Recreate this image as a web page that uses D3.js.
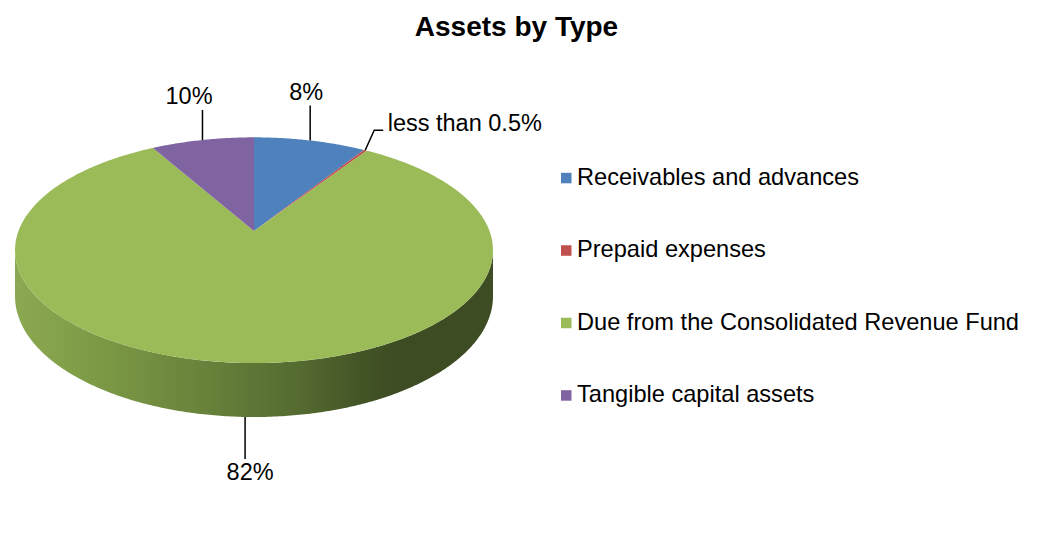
<!DOCTYPE html>
<html>
<head>
<meta charset="utf-8">
<script src="https://cdn.jsdelivr.net/npm/d3@7"></script>
<style>
  html, body { margin: 0; padding: 0; background: #fff; }
  svg { display: block; font-family: "Liberation Sans", Arial, sans-serif; }
</style>
</head>
<body>
<div id="chart"></div>
<script>
// data
const categories = ['Receivables and advances', 'Prepaid expenses', 'Due from the Consolidated Revenue Fund', 'Tangible capital assets'];
const shares = [8.95, 0.25, 82.6, 8.2];          // slice sizes
const labelText = ['8%', 'less than 0.5%', '82%', '10%'];
const colors = ['#4f81bd', '#c0504d', '#9bbb59', '#8064a2'];

const w = 1037, h = 549;
const svg = d3.select('#chart').append('svg').attr('width', w).attr('height', h);

svg.append('text')
  .attr('x', 516.5).attr('y', 36)
  .attr('text-anchor', 'middle')
  .attr('font-size', 28).attr('font-weight', 'bold')
  .text('Assets by Type');

// 3d pie geometry (a tilted disc seen with some perspective)
const cx = 254, cy = 231;
const Rx = 235.5, B = 109.6, p = 0.17, depth = 44.8;

function proj(a, dz) {
  const s = Math.sin(a), c = Math.cos(a), k = 1 + p * c;
  return [cx + Rx * s / k, cy - B * c / k + (dz || 0) / k];
}
function arcPts(a0, a1, dz) {
  const n = Math.max(2, Math.ceil(Math.abs(a1 - a0) / 0.01));
  return d3.range(n + 1).map(i => proj(a0 + (a1 - a0) * i / n, dz));
}

const pie = d3.pie().sort(null).value(d => d)(shares);
const line = d3.line();

// side shading
const defs = svg.append('defs');
const grad = defs.append('linearGradient')
  .attr('id', 'sideGreen')
  .attr('gradientUnits', 'userSpaceOnUse')
  .attr('x1', 15).attr('x2', 493).attr('y1', 0).attr('y2', 0);
[[0, '#8ca951'], [0.2, '#7a9744'], [0.4, '#68823b'], [0.6, '#546a30'], [0.72, '#435526'], [0.8, '#3d4c23'], [1, '#3d4c23']]
  .forEach(s => grad.append('stop').attr('offset', s[0]).attr('stop-color', s[1]));

const vis0 = Math.acos(-p), vis1 = 2 * Math.PI - Math.acos(-p);

const sideG = svg.append('g');
pie.forEach((d, i) => {
  const a0 = Math.max(d.startAngle, vis0), a1 = Math.min(d.endAngle, vis1);
  if (a1 <= a0) return;
  const pts = arcPts(a0, a1, 0).concat(arcPts(a1, a0, depth));
  sideG.append('path')
    .attr('d', line(pts) + 'Z')
    .attr('fill', i === 2 ? 'url(#sideGreen)' : d3.color(colors[i]).darker(1));
});

const faceG = svg.append('g');
pie.forEach((d, i) => {
  const pts = [[cx, cy]].concat(arcPts(d.startAngle, d.endAngle, 0));
  faceG.append('path')
    .attr('d', line(pts) + 'Z')
    .attr('fill', colors[i]);
});

// data labels with leader lines
const leaders = [
  { from: 0, path: [[0, -35]], tx: -4, ty: -5.7, anchor: 'middle' },
  { from: 1, path: [[9, -20], [18, -20]], tx: 4.5, ty: 0.8, anchor: 'start' },
  { from: 2, path: [[0, 42]], tx: 5, ty: 21, anchor: 'middle' },
  { from: 3, path: [[0, -30]], tx: -13.4, ty: -6.4, anchor: 'middle' }
];
const lab = svg.append('g').attr('font-size', 23.5);
leaders.forEach(L => {
  const d = pie[L.from];
  const a = (d.startAngle + d.endAngle) / 2;
  const onFront = Math.cos(a) < -p;
  const start = proj(a, onFront ? depth : 0);
  const pts = [start].concat(L.path.map(o => [start[0] + o[0], start[1] + o[1]]));
  lab.append('path').attr('d', line(pts)).attr('fill', 'none').attr('stroke', '#000').attr('stroke-width', 1.5);
  const end = pts[pts.length - 1];
  lab.append('text')
    .attr('x', end[0] + L.tx).attr('y', end[1] + L.ty)
    .attr('text-anchor', L.anchor)
    .text(labelText[L.from]);
});

// legend
const ly = d3.scaleLinear().domain([0, categories.length - 1]).range([185, 402.4]);
const leg = svg.append('g').attr('font-size', 23.6);
categories.forEach((c, i) => {
  leg.append('rect').attr('x', 561).attr('y', ly(i) - 12.2).attr('width', 10.5).attr('height', 10.5).attr('fill', colors[i]);
  leg.append('text').attr('x', 577).attr('y', ly(i)).text(c);
});
</script>
</body>
</html>
